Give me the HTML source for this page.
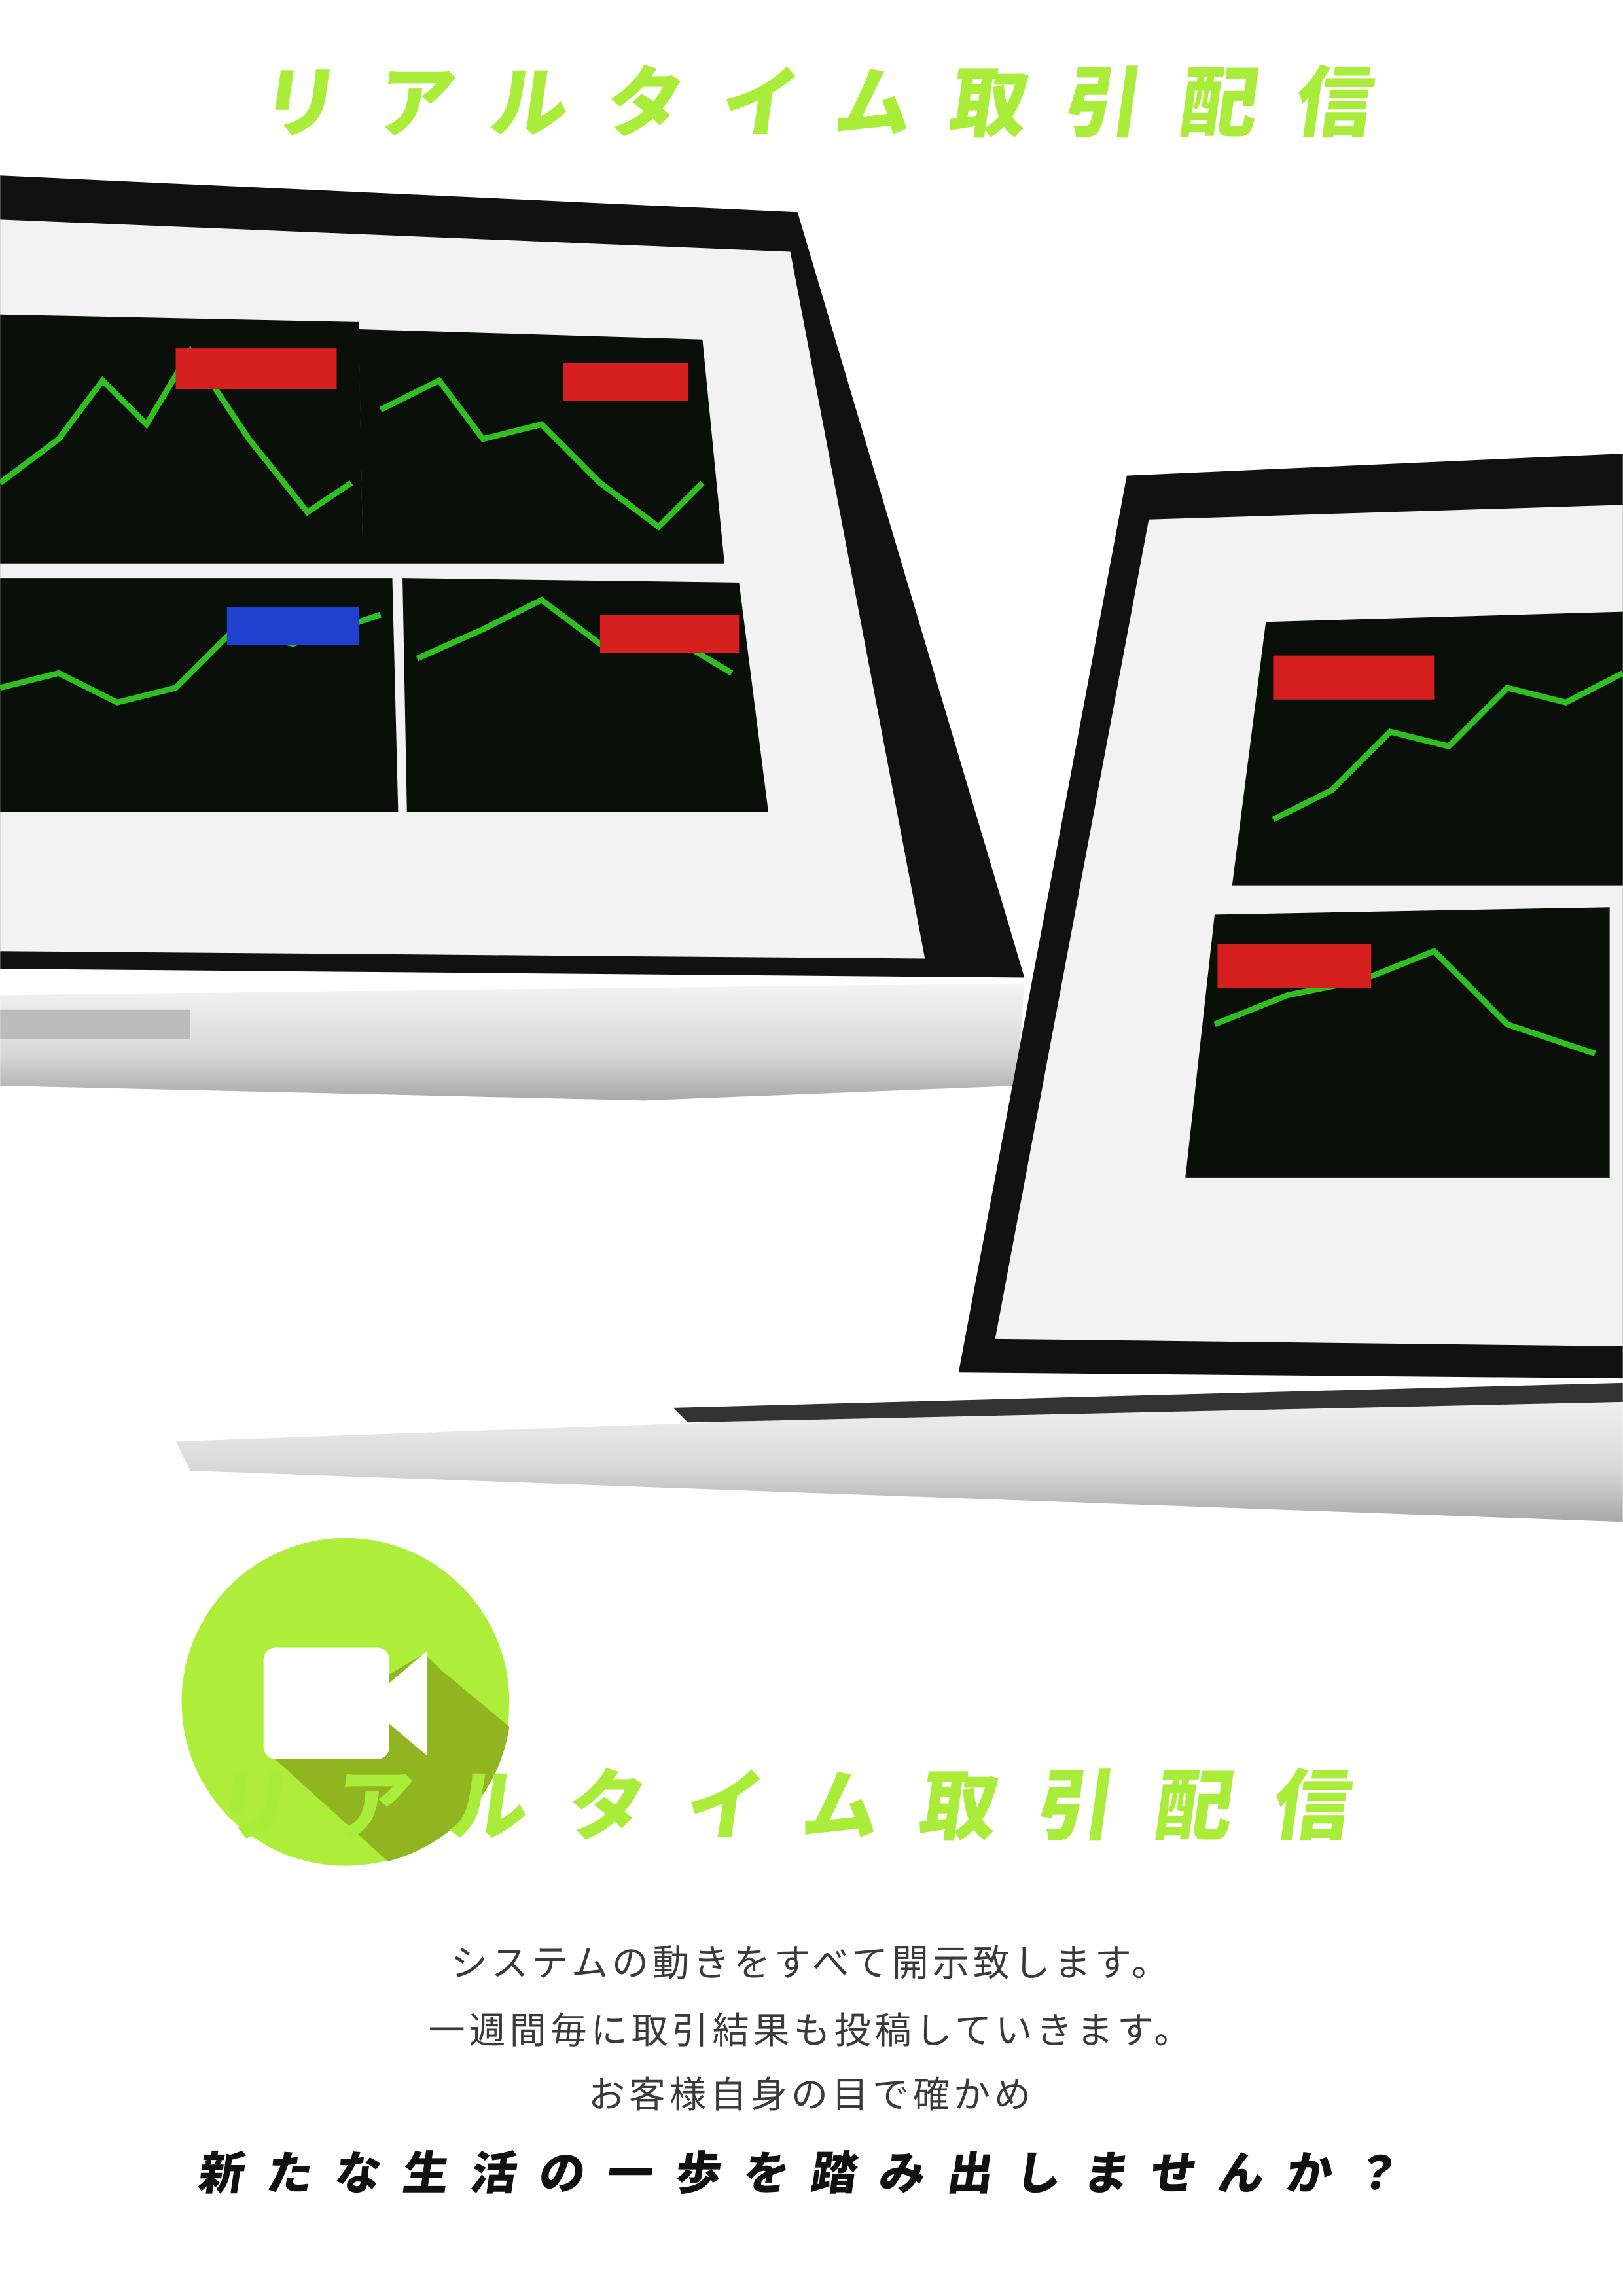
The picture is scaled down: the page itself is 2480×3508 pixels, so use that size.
<!DOCTYPE html>
<html><head><meta charset="utf-8"><style>
html,body{margin:0;padding:0;background:#fff}
#page{position:relative;width:2480px;height:3508px;overflow:hidden;background:#fff}
svg{position:absolute;left:0;top:0}
.t{position:absolute;left:0;width:2480px;text-align:center;font-family:"Liberation Sans","Noto Sans CJK JP",sans-serif;white-space:nowrap}
.title{color:#a9ec3a;font-weight:900;font-size:118px;letter-spacing:58px;transform:skewX(-8deg)}
.body{color:#3a3a3a;font-size:56px;letter-spacing:6px}
.final{color:#111;font-weight:900;font-size:70px;letter-spacing:34px;transform:skewX(-8deg)}
</style></head><body>
<div id="page">
<svg width="2480" height="3508" viewBox="0 0 1109 1569">
 <defs>
  <linearGradient id="silver" x1="0" y1="0" x2="0" y2="1"><stop offset="0" stop-color="#f4f4f4"/><stop offset=".6" stop-color="#d8d8d8"/><stop offset="1" stop-color="#a8a8a8"/></linearGradient>
 </defs>
 <g>
  <polygon points="0,680 700,672 695,742 440,752 0,742" fill="url(#silver)"/>
  <polygon points="0,120 545,145 700,668 0,662" fill="#111"/>
  <polygon points="0,150 540,172 632,655 0,650" fill="#f2f2f2"/>
  <polygon points="0,215 245,220 248,385 0,385" fill="#0a0f0a"/>
  <polygon points="245,225 480,232 495,385 248,385" fill="#0a0f0a"/>
  <polygon points="0,395 268,395 272,555 0,555" fill="#0a0f0a"/>
  <polygon points="275,395 505,398 525,555 278,555" fill="#0a0f0a"/>
  <polyline points="0,330 40,300 70,260 100,290 130,240 170,300 210,350 240,330" fill="none" stroke="#2fbf20" stroke-width="4"/>
  <polyline points="260,280 300,260 330,300 370,290 410,330 450,360 480,330" fill="none" stroke="#2fbf20" stroke-width="4"/>
  <polyline points="0,470 40,460 80,480 120,470 160,430 200,440 260,420" fill="none" stroke="#2fbf20" stroke-width="4"/>
  <polyline points="285,450 330,430 370,410 410,440 450,430 500,460" fill="none" stroke="#2fbf20" stroke-width="4"/>
  <rect x="120" y="238" width="110" height="28" fill="#d62020"/>
  <rect x="385" y="248" width="85" height="26" fill="#d62020"/>
  <rect x="155" y="415" width="90" height="26" fill="#2040d0"/>
  <rect x="410" y="420" width="95" height="26" fill="#d62020"/>
  <rect x="0" y="690" width="130" height="20" fill="#bbb"/>
 </g>
 <g>
  <polygon points="120,985 1109,950 1109,1040 130,1005" fill="url(#silver)"/>
  <polygon points="460,962 1109,945 1109,958 470,972" fill="#333"/>
  <polygon points="770,325 1109,310 1109,942 655,938" fill="#111"/>
  <polygon points="785,355 1109,345 1109,920 680,915" fill="#f2f2f2"/>
  <polygon points="865,425 1109,418 1109,605 842,605" fill="#0a0f0a"/>
  <polygon points="830,625 1100,620 1100,805 810,805" fill="#0a0f0a"/>
  <polyline points="870,560 910,540 950,500 990,510 1030,470 1070,480 1109,460" fill="none" stroke="#2fbf20" stroke-width="4"/>
  <polyline points="830,700 880,680 930,670 980,650 1030,700 1090,720" fill="none" stroke="#2fbf20" stroke-width="4"/>
  <rect x="870" y="448" width="110" height="30" fill="#d62020"/>
  <rect x="832" y="645" width="105" height="30" fill="#d62020"/>
 </g>
 <g>
  <circle cx="236" cy="1163" r="112" fill="#aeee3a"/>
  <path d="M180,1195 L265,1272 A112,112 0 0 0 348,1180 L300,1140 L290,1130 Z" fill="#90b520"/>
  <rect x="180" y="1126" width="86" height="76" rx="8" fill="#fff"/>
  <polygon points="266,1150 292,1128 292,1200 266,1178" fill="#fff"/>
 </g>
</svg>
<div class="t title" style="top:62px;left:40px">リアルタイム取引配信</div>
<div class="t title" style="top:2664px;left:-10px;letter-spacing:62px">リアルタイム取引配信</div>
<div class="t body" style="top:2955px">システムの動きをすべて開示致します。</div>
<div class="t body" style="top:3058px">一週間毎に取引結果も投稿していきます。</div>
<div class="t body" style="top:3156px">お客様自身の目で確かめ</div>
<div class="t final" style="top:3265px">新たな生活の一歩を踏み出しませんか？</div>
</div>
</body></html>
